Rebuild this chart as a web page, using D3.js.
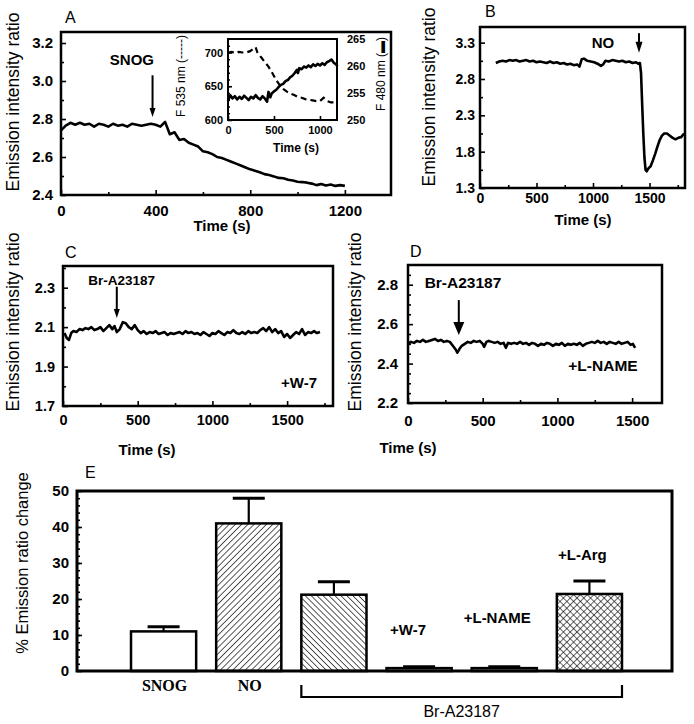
<!DOCTYPE html>
<html>
<head>
<meta charset="utf-8">
<script src="https://cdn.jsdelivr.net/npm/d3@7"></script>
<style>
body { margin: 0; background: #fff; }
text { font-family: Arial, "Liberation Sans", sans-serif; fill: #000; }
</style>
</head>
<body>
<svg width="694" height="724"></svg>
<script>
// ---- panel A: ratio after SNOG
const timeA = [0,20,40,60,80,100,120,140,160,180,200,220,240,260,280,300,320,340,360,380,400,420,440,460,480,500,520,540,560,580,600,620,640,660,680,700,720,740,760,780,800,820,840,860,880,900,920,940,960,980,1000,1020,1040,1060,1080,1100,1120,1140,1160,1180,1200]
const ratioA = [2.74,2.765,2.78,2.77,2.78,2.77,2.775,2.76,2.775,2.77,2.76,2.775,2.765,2.77,2.76,2.775,2.77,2.765,2.77,2.775,2.77,2.76,2.785,2.72,2.73,2.69,2.695,2.675,2.665,2.655,2.63,2.625,2.615,2.6,2.595,2.585,2.575,2.565,2.555,2.545,2.535,2.528,2.52,2.51,2.505,2.498,2.49,2.488,2.48,2.476,2.47,2.468,2.465,2.46,2.452,2.458,2.45,2.455,2.448,2.452,2.448]

// inset of A: F535 (dashed) and F480 (solid)
const insetTimeDash = [0,40,80,120,160,200,240,280,300,320,360,400,440,480,520,560,600,640,680,720,760,800,840,880,920,960,1000,1040,1080,1120,1160,1190]
const insetF535 = [700,701,699,701,700,700,702,706,708,700,693,686,679,670,660,652,646,642,639,637,634,633,631,630,629,628,628,633,628,626,626,627]
const insetTimeSolid = [0,25,50,75,100,125,150,175,200,225,250,275,300,325,350,375,400,425,440,460,475,500,525,550,575,600,625,650,675,700,725,750,760,775,800,825,850,875,900,925,950,975,1000,1025,1050,1075,1100,1125,1150,1175,1190]
const insetF480 = [253.5,254.6,254.0,254.4,253.8,254.3,253.9,254.5,254.1,253.7,254.3,254.0,254.6,254.1,253.8,254.4,254.0,253.4,255.2,254.2,254.9,255.3,255.6,256.1,256.5,256.7,257.2,257.4,257.9,258.2,258.7,259.3,258.7,259.6,259.4,259.9,259.7,260.1,259.8,260.3,260.0,260.4,260.1,260.5,260.2,260.7,260.9,261.2,260.6,260.3,259.9]

// ---- panel B: NO
const timeB = [140,170,200,230,260,290,320,350,380,410,440,470,500,530,560,590,620,650,680,710,740,770,800,830,860,880,900,920,950,980,1010,1040,1070,1090,1110,1140,1170,1200,1230,1260,1290,1320,1350,1380,1400,1415,1425,1435,1445,1455,1465,1475,1490,1510,1530,1550,1570,1590,1610,1630,1655,1680,1705,1730,1755,1780,1800,1814]
const ratioB = [3.02,3.04,3.05,3.04,3.06,3.05,3.06,3.04,3.05,3.06,3.04,3.05,3.03,3.04,3.03,3.02,3.04,3.02,3.03,3.01,3.02,3.0,3.01,2.99,3.0,2.97,3.07,3.08,3.05,3.04,3.03,3.01,2.98,3.0,3.05,3.04,3.06,3.05,3.04,3.05,3.03,3.04,3.02,3.03,3.01,3.02,2.88,2.45,2.05,1.72,1.55,1.53,1.57,1.6,1.68,1.77,1.87,1.96,2.02,2.05,2.05,2.02,1.99,1.97,1.99,2.0,2.04,2.04]

// ---- panel C: Br-A23187 + W-7
const timeC = [10,25,40,55,70,90,110,130,150,170,190,210,230,250,270,290,310,330,345,360,380,400,420,440,460,480,500,520,540,560,580,600,620,640,660,680,700,720,740,760,780,800,820,840,860,880,900,920,940,960,980,1000,1020,1040,1060,1080,1100,1120,1140,1160,1180,1200,1220,1240,1260,1280,1300,1320,1340,1360,1380,1400,1420,1440,1460,1480,1500,1520,1540,1560,1580,1600,1620,1640,1660,1680,1700,1720]
const ratioC = [2.07,2.045,2.035,2.07,2.08,2.075,2.09,2.085,2.095,2.09,2.1,2.085,2.09,2.1,2.08,2.095,2.11,2.09,2.105,2.075,2.09,2.125,2.12,2.1,2.09,2.11,2.085,2.07,2.08,2.065,2.075,2.07,2.08,2.065,2.07,2.075,2.06,2.07,2.065,2.07,2.075,2.065,2.08,2.07,2.075,2.065,2.07,2.06,2.075,2.065,2.055,2.07,2.065,2.08,2.07,2.06,2.075,2.07,2.085,2.07,2.065,2.075,2.065,2.08,2.07,2.075,2.07,2.085,2.095,2.08,2.1,2.075,2.09,2.07,2.08,2.05,2.065,2.045,2.06,2.075,2.065,2.09,2.06,2.075,2.07,2.08,2.07,2.075]

// ---- panel D: Br-A23187 + L-NAME
const timeD = [0,20,40,60,80,100,120,140,160,180,200,220,240,260,280,300,320,330,345,360,380,400,420,440,460,480,500,510,525,540,560,580,600,620,640,655,670,690,710,730,750,770,790,810,830,850,870,890,910,930,950,970,990,1010,1030,1050,1070,1090,1110,1130,1150,1170,1190,1210,1230,1250,1270,1290,1310,1330,1350,1370,1390,1410,1430,1450,1470,1490,1505,1520]
const ratioD = [2.5,2.51,2.505,2.515,2.51,2.52,2.51,2.515,2.52,2.525,2.515,2.52,2.51,2.515,2.51,2.49,2.47,2.455,2.475,2.49,2.5,2.51,2.505,2.515,2.51,2.515,2.5,2.485,2.51,2.515,2.51,2.505,2.51,2.5,2.505,2.48,2.505,2.5,2.505,2.5,2.51,2.5,2.505,2.495,2.505,2.5,2.49,2.5,2.495,2.505,2.5,2.49,2.5,2.495,2.505,2.49,2.5,2.495,2.5,2.495,2.505,2.49,2.5,2.505,2.51,2.505,2.515,2.505,2.51,2.5,2.51,2.505,2.5,2.51,2.5,2.505,2.51,2.495,2.5,2.48]

// ---- panel E: % emission ratio change
const barLabels = ["SNOG", "NO", "Br-A23187", "+W-7", "+L-NAME", "+L-Arg"]
const barValues = [11, 41, 21.2, 0.8, 0.8, 21.4]
const barErrors = [1.3, 7, 3.6, 0.4, 0.4, 3.6]
const barFills = ["white", "url(#hatchUp)", "url(#hatchDown)", "white", "white", "url(#cross)"]

const svg = d3.select("svg")
const zip = (ts, vs) => ts.map((t, i) => [t, vs[i]])

// hatch patterns
const defs = svg.append("defs")
function hatch(id, angle, size) {
    const p = defs.append("pattern").attr("id", id)
        .attr("patternUnits", "userSpaceOnUse")
        .attr("width", size).attr("height", size)
        .attr("patternTransform", `rotate(${angle})`)
    p.append("rect").attr("width", size).attr("height", size).attr("fill", "white")
    p.append("line").attr("x1", 0).attr("y1", 0).attr("x2", 0).attr("y2", size)
        .attr("stroke", "#000").attr("stroke-width", 1.3)
}
hatch("hatchUp", 45, 4.4)
hatch("hatchDown", -45, 4.2)
const cp = defs.append("pattern").attr("id", "cross")
    .attr("patternUnits", "userSpaceOnUse").attr("width", 4.8).attr("height", 4.8)
    .attr("patternTransform", "rotate(45)")
cp.append("rect").attr("width", 4.8).attr("height", 4.8).attr("fill", "white")
cp.append("line").attr("x1", 0).attr("y1", 0).attr("x2", 0).attr("y2", 4.8).attr("stroke", "#000").attr("stroke-width", 1.2)
cp.append("line").attr("x1", 0).attr("y1", 0).attr("x2", 4.8).attr("y2", 0).attr("stroke", "#000").attr("stroke-width", 1.2)

function styleAxis(g, size) {
    g.attr("font-family", "Arial, 'Liberation Sans', sans-serif")
        .attr("font-size", size).attr("font-weight", "bold")
    g.select(".domain").remove()
    g.selectAll(".tick line").attr("stroke-width", 1.6)
}

function drawPanel(o) {
    const g = svg.append("g")
    const x = d3.scaleLinear().domain(o.xDomain).range(o.xRange)
    const y = d3.scaleLinear().domain(o.yDomain).range(o.yRange)
    const bottom = o.yRange[0], left = o.xRange[0]

    g.append("g").attr("transform", `translate(0,${bottom})`)
        .call(d3.axisBottom(x).tickValues(o.xMinor).tickSize(-3).tickFormat(""))
        .call(a => styleAxis(a, o.font))
    g.append("g").attr("transform", `translate(0,${bottom})`)
        .call(d3.axisBottom(x).tickValues(o.xTicks).tickSize(-5).tickPadding(o.xPad).tickFormat(d3.format("d")))
        .call(a => styleAxis(a, o.font))
    g.append("g").attr("transform", `translate(${left},0)`)
        .call(d3.axisLeft(y).tickValues(o.yMinor).tickSize(-3).tickFormat(""))
        .call(a => styleAxis(a, o.font))
    g.append("g").attr("transform", `translate(${left},0)`)
        .call(d3.axisLeft(y).tickValues(o.yTicks).tickSize(-5).tickPadding(o.yPad).tickFormat(d3.format(".1f")))
        .call(a => styleAxis(a, o.font))

    g.append("rect")
        .attr("x", left).attr("y", o.yRange[1])
        .attr("width", o.xRange[1] - left).attr("height", bottom - o.yRange[1])
        .attr("fill", "none").attr("stroke", "#000").attr("stroke-width", 2.5)

    g.append("path")
        .datum(zip(o.times, o.values))
        .attr("fill", "none").attr("stroke", "#000")
        .attr("stroke-width", 2.6).attr("stroke-linejoin", "round")
        .attr("d", d3.line().x(d => x(d[0])).y(d => y(d[1])))

    // arrow
    const ax = x(o.arrow.t), y1 = y(o.arrow.from), y2 = y(o.arrow.to)
    g.append("line").attr("x1", ax).attr("x2", ax).attr("y1", y1).attr("y2", y2 - o.arrow.h + 1)
        .attr("stroke", "#000").attr("stroke-width", 2)
    g.append("path")
        .attr("d", `M${ax - o.arrow.w / 2},${y2 - o.arrow.h}L${ax + o.arrow.w / 2},${y2 - o.arrow.h}L${ax},${y2}Z`)
        .attr("fill", "#000")

    o.notes.forEach(n => {
        g.append("text").attr("x", x(n.t)).attr("y", y(n.v))
            .attr("text-anchor", "middle").attr("font-weight", "bold")
            .attr("font-size", n.size).text(n.text)
    })

    g.append("text").attr("x", o.letter[0]).attr("y", o.letter[1])
        .attr("font-size", 16).text(o.name)
    g.append("text").attr("x", o.xLabel[0]).attr("y", o.xLabel[1])
        .attr("text-anchor", "middle").attr("font-weight", "bold")
        .attr("font-size", 15).text("Time (s)")
    g.append("text").attr("transform", `translate(${o.yLabel[0]},${o.yLabel[1]}) rotate(-90)`)
        .attr("text-anchor", "middle").attr("font-size", 17.5)
        .text("Emission intensity ratio")

    return { x, y }
}

// A
drawPanel({
    name: "A", letter: [65, 23], xLabel: [222, 231], yLabel: [19, 102],
    xDomain: [0, 1395], xRange: [61, 391], yDomain: [2.4, 3.258], yRange: [195, 32],
    xTicks: [0, 400, 800, 1200], xMinor: [200, 600, 1000],
    yTicks: [2.4, 2.6, 2.8, 3.0, 3.2], yMinor: [2.5, 2.7, 2.9, 3.1],
    xPad: 10, yPad: 8, font: 15,
    times: timeA, values: ratioA,
    arrow: { t: 387, from: 3.03, to: 2.81, w: 6, h: 9 },
    notes: [{ t: 300, v: 3.084, text: "SNOG", size: 15 }]
})

// inset of A
{
    const g = svg.append("g")
    const x = d3.scaleLinear().domain([0, 1185]).range([228, 337])
    const yL = d3.scaleLinear().domain([600, 720]).range([120, 39])
    const yR = d3.scaleLinear().domain([250, 265]).range([120, 39])
    g.append("rect").attr("x", 228).attr("y", 39).attr("width", 109).attr("height", 81)
        .attr("fill", "white")
    g.append("g").attr("transform", "translate(0,120)")
        .call(d3.axisBottom(x).tickValues([0, 500, 1000]).tickSize(-4).tickPadding(6).tickFormat(d3.format("d")))
        .call(a => styleAxis(a, 11))
    g.append("g").attr("transform", "translate(228,0)")
        .call(d3.axisLeft(yL).tickValues(d3.range(610, 720, 10)).tickSize(-2).tickFormat(""))
        .call(a => styleAxis(a, 11))
    g.append("g").attr("transform", "translate(228,0)")
        .call(d3.axisLeft(yL).tickValues([600, 650, 700]).tickSize(-4).tickPadding(5).tickFormat(d3.format("d")))
        .call(a => styleAxis(a, 11))
    g.append("g").attr("transform", "translate(337,0)")
        .call(d3.axisRight(yR).tickValues([250, 255, 260, 265]).tickSize(0).tickPadding(10).tickFormat(d3.format("d")))
        .call(a => styleAxis(a, 11))
    g.append("path").datum(zip(insetTimeDash, insetF535))
        .attr("fill", "none").attr("stroke", "#000").attr("stroke-width", 2.2)
        .attr("stroke-dasharray", "6,4")
        .attr("d", d3.line().x(d => x(d[0])).y(d => yL(d[1])))
    g.append("path").datum(zip(insetTimeSolid, insetF480))
        .attr("fill", "none").attr("stroke", "#000").attr("stroke-width", 2.6)
        .attr("stroke-linejoin", "round")
        .attr("d", d3.line().x(d => x(d[0])).y(d => yR(d[1])))
    g.append("rect").attr("x", 228).attr("y", 39).attr("width", 109).attr("height", 81)
        .attr("fill", "none").attr("stroke", "#000").attr("stroke-width", 2)
    g.append("text").attr("x", 296).attr("y", 152).attr("text-anchor", "middle")
        .attr("font-weight", "bold").attr("font-size", 12).text("Time (s)")
    g.append("text").attr("transform", "translate(185,76) rotate(-90)")
        .attr("text-anchor", "middle").attr("font-size", 12).text("F 535 nm (-----)")
    g.append("text").attr("transform", "translate(385,74) rotate(-90)")
        .attr("text-anchor", "middle").attr("font-size", 12).text("F 480 nm (\u25AC)")
}

// B
drawPanel({
    name: "B", letter: [485, 17], xLabel: [583, 225], yLabel: [435, 97],
    xDomain: [0, 1814], xRange: [480, 685], yDomain: [1.3, 3.515], yRange: [188, 27],
    xTicks: [0, 500, 1000, 1500], xMinor: [250, 750, 1250, 1750],
    yTicks: [1.3, 1.8, 2.3, 2.8, 3.3], yMinor: [1.55, 2.05, 2.55, 3.05],
    xPad: 5, yPad: 5, font: 14,
    times: timeB, values: ratioB,
    arrow: { t: 1407, from: 3.43, to: 3.16, w: 7, h: 11 },
    notes: [{ t: 1088, v: 3.227, text: "NO", size: 15 }]
})

// C
drawPanel({
    name: "C", letter: [65, 258], xLabel: [147, 455], yLabel: [19, 322],
    xDomain: [0, 1807], xRange: [63, 333], yDomain: [1.7, 2.41], yRange: [406, 266],
    xTicks: [0, 500, 1000, 1500], xMinor: [250, 750, 1250, 1750],
    yTicks: [1.7, 1.9, 2.1, 2.3], yMinor: [1.8, 2.0, 2.2, 2.4],
    xPad: 9, yPad: 8, font: 14.5,
    times: timeC, values: ratioC,
    arrow: { t: 360, from: 2.305, to: 2.146, w: 6, h: 9 },
    notes: [{ t: 393, v: 2.314, text: "Br-A23187", size: 13.5 },
            { t: 1580, v: 1.791, text: "+W-7", size: 15 }]
})

// D
drawPanel({
    name: "D", letter: [410, 257], xLabel: [408, 453], yLabel: [361, 322],
    xDomain: [0, 1700], xRange: [408, 662], yDomain: [2.2, 2.9], yRange: [403, 265],
    xTicks: [0, 500, 1000, 1500], xMinor: [250, 750, 1250],
    yTicks: [2.2, 2.4, 2.6, 2.8], yMinor: [2.25, 2.3, 2.35, 2.45, 2.5, 2.55, 2.65, 2.7, 2.75, 2.85],
    xPad: 12, yPad: 10, font: 15,
    times: timeD, values: ratioD,
    arrow: { t: 340, from: 2.722, to: 2.545, w: 11, h: 13 },
    notes: [{ t: 368, v: 2.783, text: "Br-A23187", size: 15.5 },
            { t: 1305, v: 2.362, text: "+L-NAME", size: 15.5 }]
})

// E
{
    const g = svg.append("g")
    const x = d3.scaleBand().domain(barLabels).range([121, 632]).paddingInner(0.235).paddingOuter(0.1175)
    const y = d3.scaleLinear().domain([0, 50]).range([671, 491])

    g.append("g").attr("transform", "translate(77,0)")
        .call(d3.axisLeft(y).tickValues(d3.range(2, 50, 2)).tickSize(-3).tickFormat(""))
        .call(a => styleAxis(a, 15))
    g.append("g").attr("transform", "translate(77,0)")
        .call(d3.axisLeft(y).tickValues([0, 10, 20, 30, 40, 50]).tickSize(-5).tickPadding(8).tickFormat(d3.format("d")))
        .call(a => styleAxis(a, 15))

    g.selectAll(".bar").data(barLabels).enter().append("rect")
        .attr("x", d => x(d)).attr("width", x.bandwidth())
        .attr("y", (d, i) => y(barValues[i]))
        .attr("height", (d, i) => y(0) - y(barValues[i]))
        .attr("fill", (d, i) => barFills[i])
        .attr("stroke", "#000").attr("stroke-width", 2.5)

    const cap = 32
    barLabels.forEach((d, i) => {
        const cx = x(d) + x.bandwidth() / 2
        const top = y(barValues[i] + barErrors[i])
        g.append("line").attr("x1", cx).attr("x2", cx).attr("y1", y(barValues[i])).attr("y2", top)
            .attr("stroke", "#000").attr("stroke-width", 2.2)
        g.append("line").attr("x1", cx - cap / 2).attr("x2", cx + cap / 2).attr("y1", top).attr("y2", top)
            .attr("stroke", "#000").attr("stroke-width", 3)
    })

    g.append("rect").attr("x", 77).attr("y", 491).attr("width", 595).attr("height", 180)
        .attr("fill", "none").attr("stroke", "#000").attr("stroke-width", 3)

    // labels under the axis, serif like the original
    ;[0, 1].forEach(i => {
        g.append("text").attr("x", x(barLabels[i]) + x.bandwidth() / 2 + 1).attr("y", 691)
            .attr("text-anchor", "middle").attr("font-size", 16).attr("font-weight", "bold")
            .style("font-family", "'Liberation Serif', 'Times New Roman', serif")
            .text(barLabels[i])
    })
    // labels above the small bars
    const above = [[3, 10, -11], [4, 13.3, -7], [5, 30.8, -7]]
    above.forEach(([i, v, dx]) => {
        g.append("text").attr("x", x(barLabels[i]) + x.bandwidth() / 2 + dx).attr("y", y(v))
            .attr("text-anchor", "middle").attr("font-size", 15).attr("font-weight", "bold")
            .text(barLabels[i])
    })

    // bracket for the Br-A23187 group
    const bx0 = x("Br-A23187"), bx1 = x("+L-Arg") + x.bandwidth()
    g.append("path").attr("d", `M${bx0},685V697H${bx1}V685`)
        .attr("fill", "none").attr("stroke", "#000").attr("stroke-width", 2.2)
    g.append("text").attr("x", (bx0 + bx1) / 2).attr("y", 717).attr("text-anchor", "middle")
        .attr("font-size", 16).text("Br-A23187")

    g.append("text").attr("x", 85).attr("y", 478).attr("font-size", 16).text("E")
    g.append("text").attr("transform", "translate(28,563) rotate(-90)")
        .attr("text-anchor", "middle").attr("font-size", 16.5).text("% Emission ratio change")
}
</script>
</body>
</html>
